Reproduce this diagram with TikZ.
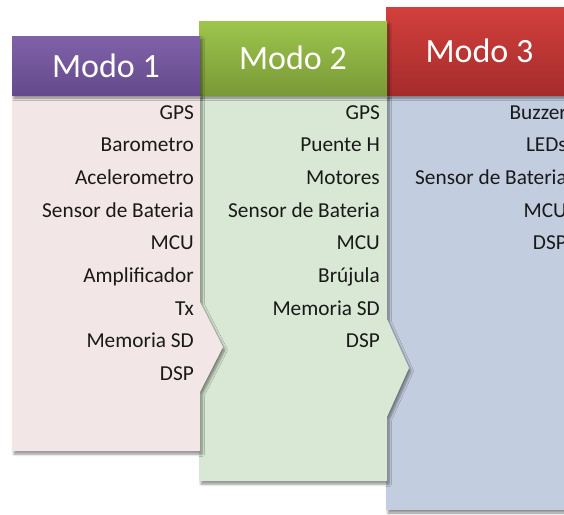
\documentclass[tikz,border=0pt]{standalone}
\usepackage{fontspec}
\setmainfont{Carlito}
\usetikzlibrary{shadows.blur}

\definecolor{pinkbody}{RGB}{242,230,230}
\definecolor{greenbody}{RGB}{216,232,212}
\definecolor{bluebody}{RGB}{195,205,224}
\definecolor{purpletop}{RGB}{128,97,168}
\definecolor{purplebot}{RGB}{100,74,140}
\definecolor{greentop}{RGB}{157,197,76}
\definecolor{greenbot}{RGB}{122,153,56}
\definecolor{redtop}{RGB}{210,64,60}
\definecolor{redbot}{RGB}{165,44,44}

\tikzset{
  softshadow/.style={blur shadow={shadow xshift=2pt, shadow yshift=-3pt,
      shadow blur radius=2.5pt, shadow blur steps=6, shadow opacity=45}},
  header/.style={softshadow},
  title/.style={text=white, font=\fontsize{34}{40}\selectfont, inner sep=0pt},
  item/.style={anchor=base east, inner sep=0pt, font=\fontsize{21.3}{25}\selectfont, text=black!90},
}

\begin{document}
\begin{tikzpicture}[x=1pt,y=-1pt]
\useasboundingbox (0,0) rectangle (564,514);
\clip (0,0) rectangle (564,514);

% ---- Modo 3 (back) ----
\path[fill=bluebody, softshadow] (386,95) rectangle (573,510);
\path[header, top color=redtop, bottom color=redbot] (386,7) rectangle (573,95);
\node[title] (m3) at (479.5,51) {Modo 3};
\node[item] (m3a) at (567,119.0) {Buzzer};
\node[item] (m3b) at (567,151.7) {LEDs};
\node[item] (m3c) at (567,184.4) {Sensor de Bateria};
\node[item] (m3d) at (567,217.1) {MCU};
\node[item] (m3e) at (567,249.8) {DSP};

% ---- Modo 2 ----
\path[fill=greenbody, softshadow] (199,95) -- (387,95) -- (387,319) -- (409,368)
   -- (387,417) -- (387,481) -- (199,481) -- cycle;
\path[header, top color=greentop, bottom color=greenbot] (199,21) rectangle (387,95);
\node[title] (m2) at (293,58) {Modo 2};
\node[item] (m2a) at (380,119.0) {GPS};
\node[item] (m2b) at (380,151.7) {Puente H};
\node[item] (m2c) at (380,184.4) {Motores};
\node[item] (m2d) at (380,217.1) {Sensor de Bateria};
\node[item] (m2e) at (380,249.8) {MCU};
\node[item] (m2f) at (380,282.5) {Brújula};
\node[item] (m2g) at (380,315.2) {Memoria SD};
\node[item] (m2h) at (380,347.9) {DSP};

% ---- Modo 1 (front) ----
\path[fill=pinkbody, softshadow] (12,95) -- (200,95) -- (200,302) -- (223,347)
   -- (200,392) -- (200,451) -- (12,451) -- cycle;
\path[header, top color=purpletop, bottom color=purplebot] (12,36) rectangle (200,95);
\node[title] (m1) at (106,66) {Modo 1};
\node[item] (m1a) at (194,119.0) {GPS};
\node[item] (m1b) at (194,151.7) {Barometro};
\node[item] (m1c) at (194,184.4) {Acelerometro};
\node[item] (m1d) at (194,217.1) {Sensor de Bateria};
\node[item] (m1e) at (194,249.8) {MCU};
\node[item] (m1f) at (194,282.5) {Amplificador};
\node[item] (m1g) at (194,315.2) {Tx};
\node[item] (m1h) at (194,347.9) {Memoria SD};
\node[item] (m1i) at (194,380.6) {DSP};
\end{tikzpicture}
\end{document}
